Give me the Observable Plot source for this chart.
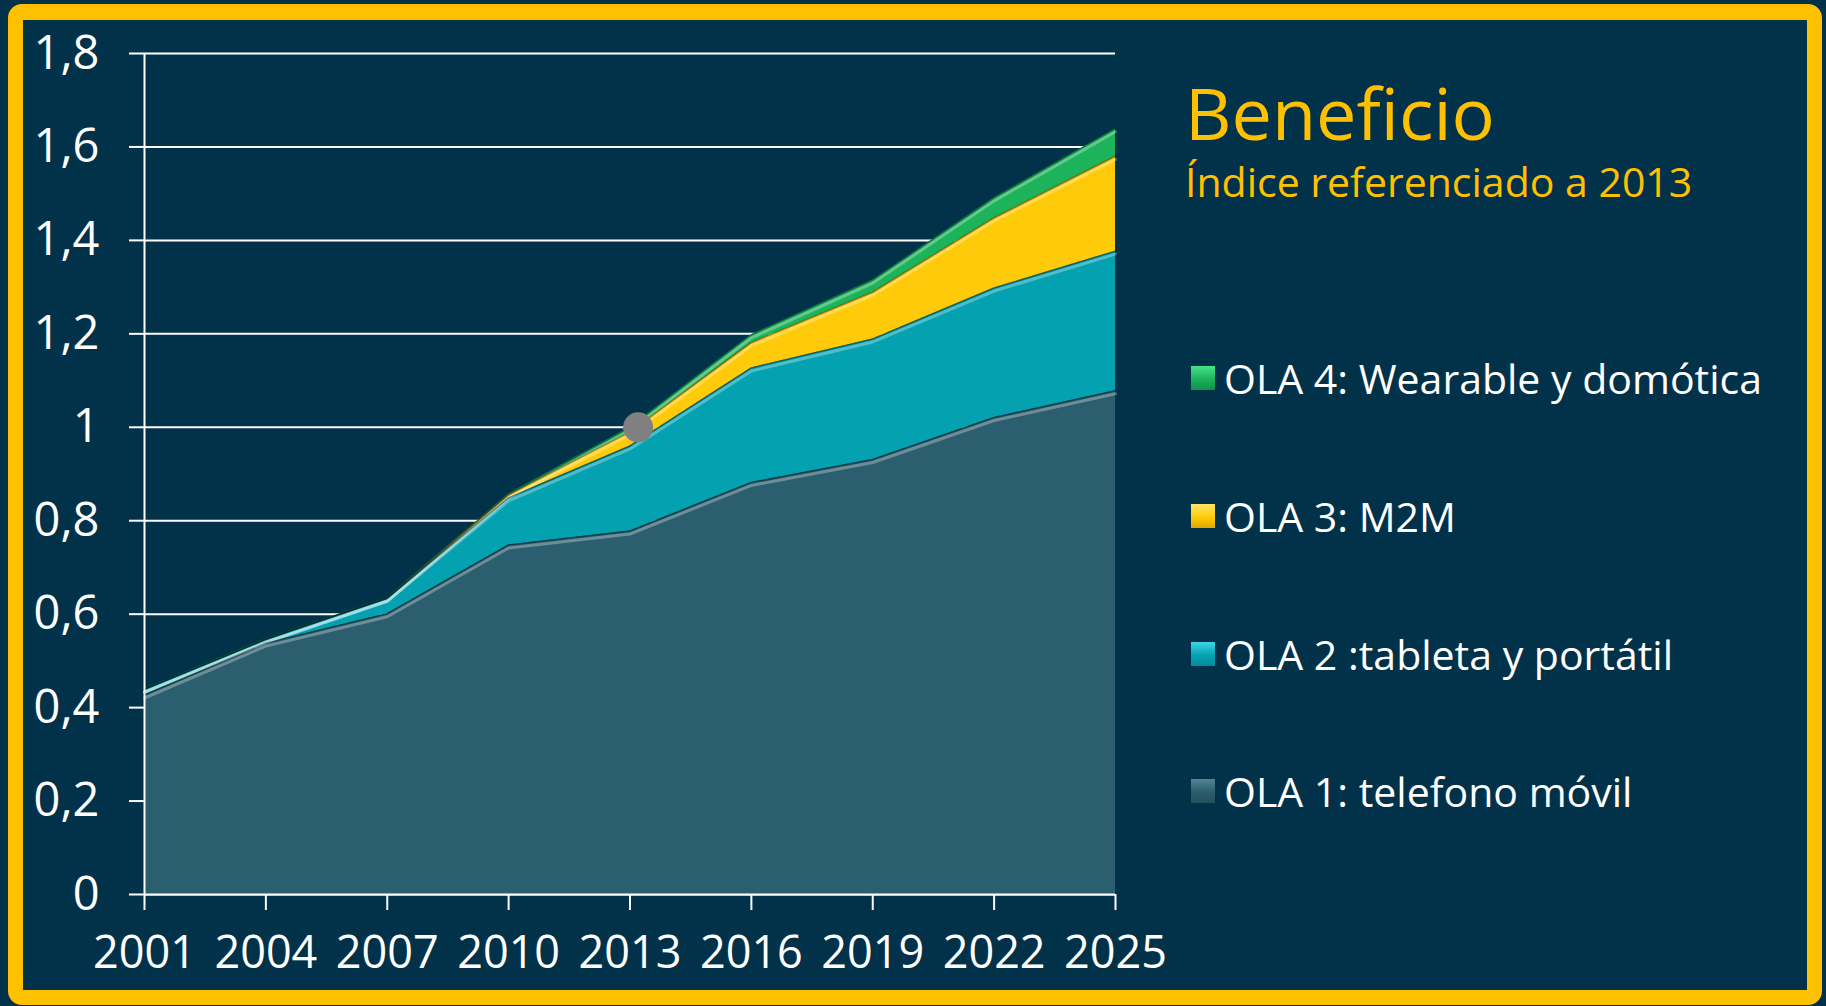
<!DOCTYPE html>
<html>
<head>
<meta charset="utf-8">
<script src="https://cdn.jsdelivr.net/npm/d3@7"></script>
<script src="https://cdn.jsdelivr.net/npm/@observablehq/plot@0.6"></script>
<style>
  html, body { margin:0; padding:0; width:1826px; height:1006px; overflow:hidden; background:#02324a; font-family:"Open Sans", sans-serif; }
  #frame { position:absolute; left:8px; top:4px; width:1784px; height:970px; border:15px solid #FFC000; border-top-width:16px; border-radius:14px; background:#02324a; box-sizing:content-box; }
  #chart { position:absolute; left:0; top:0; }
  .title { position:absolute; left:1185px; color:#FFC000; white-space:nowrap; line-height:1; }
  .leg { position:absolute; left:1191px; height:41px; display:flex; align-items:center; color:#fff; font-size:41px; line-height:1; white-space:nowrap; }
  .sw { width:24px; height:24px; margin-right:9px; box-sizing:border-box; flex:none; }
</style>
</head>
<body>
<div id="frame"></div>
<div id="chart"></div>
<div class="title" style="top:76px;font-size:72px;">Beneficio</div>
<div class="title" style="top:161px;font-size:41px;">Índice referenciado a 2013</div>
<div id="legend"></div>
<script>
// ---- data ----
const years = [2001, 2004, 2007, 2010, 2013, 2016, 2019, 2022, 2025];
const ola1 = [0.427, 0.538, 0.601, 0.748, 0.778, 0.882, 0.931, 1.021, 1.078];
const ola2 = [0.012, 0.008, 0.033, 0.101, 0.182, 0.245, 0.258, 0.277, 0.299];
const ola3 = [0.000, 0.000, 0.000, 0.006, 0.030, 0.054, 0.100, 0.150, 0.203];
const ola4 = [0.001, 0.001, 0.001, 0.002, 0.010, 0.017, 0.026, 0.043, 0.059];
const seriesNames = ["OLA 1: telefono móvil", "OLA 2 :tableta y portátil", "OLA 3: M2M", "OLA 4: Wearable y domótica"];
const seriesColors = ["#2b5e6e", "#04a2b1", "#ffca0a", "#1cb35b"];
const legendTop = ["#4f8594", "#3fd6e6", "#ffe766", "#45e38a"];
const legendBottom = ["#244f5c", "#058b98", "#e0a800", "#10904a"];
const yTicks = [0, 0.2, 0.4, 0.6, 0.8, 1, 1.2, 1.4, 1.6, 1.8];
const xTicks = [2001, 2004, 2007, 2010, 2013, 2016, 2019, 2022, 2025];
const refPoint = [{year: 2013.2, value: 1.0}];

const seriesValues = [ola1, ola2, ola3, ola4];
const rows = [];
seriesNames.forEach((s, i) => years.forEach((y, j) => rows.push({year: y, value: seriesValues[i][j], serie: s})));

const fmt = d => String(d).replace(".", ",");

const chart = Plot.plot({
  width: 1150,
  height: 1006,
  marginLeft: 144,
  marginRight: 35,
  marginTop: 53,
  marginBottom: 112,
  style: {background: "transparent", color: "#ffffff", fontFamily: "'Open Sans', sans-serif", overflow: "visible"},
  x: {domain: [2001, 2025], label: null},
  y: {domain: [0, 1.8], label: null},
  color: {domain: seriesNames, range: seriesColors},
  marks: [
    Plot.gridY(yTicks, {stroke: "#ffffff", strokeOpacity: 1, strokeWidth: 2}),
    Plot.areaY(rows, {x: "year", y: "value", z: "serie", fill: "serie", order: seriesNames}),
    Plot.lineY(rows, Plot.stackY2({x: "year", y: "value", z: "serie", order: seriesNames, stroke: "#ffffff", strokeOpacity: 0.3, strokeWidth: 3, dy: 3})),
    Plot.lineY(rows, Plot.stackY2({x: "year", y: "value", z: "serie", order: seriesNames, stroke: "#000000", strokeOpacity: 0.35, strokeWidth: 1.5})),
    Plot.ruleX([2001], {stroke: "#ffffff", strokeWidth: 2}),
    Plot.ruleY([0], {stroke: "#ffffff", strokeWidth: 2}),
    Plot.axisY({ticks: yTicks, tickSize: 15, tickPadding: 30, tickFormat: fmt, fontSize: 47, strokeWidth: 2, label: null}),
    Plot.axisX({ticks: xTicks, tickSize: 16, tickPadding: 26, tickFormat: d => String(d), fontSize: 45, strokeWidth: 2, label: null}),
    Plot.dot(refPoint, {x: "year", y: "value", r: 15, fill: "#808080", stroke: "none"})
  ]
});
document.getElementById("chart").appendChild(chart);

// ---- legend ----
const legendRows = [3, 2, 1, 0];
const legendCenters = [378, 516, 654, 791];
const legend = document.getElementById("legend");
legendRows.forEach((idx, k) => {
  const row = document.createElement("div");
  row.className = "leg";
  row.style.top = (legendCenters[k] - 20.5) + "px";
  const sw = document.createElement("div");
  sw.className = "sw";
  sw.style.background = `linear-gradient(${legendTop[idx]}, ${seriesColors[idx]} 55%, ${legendBottom[idx]})`;
  const tx = document.createElement("span");
  tx.textContent = seriesNames[idx];
  row.appendChild(sw);
  row.appendChild(tx);
  legend.appendChild(row);
});
</script>
</body>
</html>
